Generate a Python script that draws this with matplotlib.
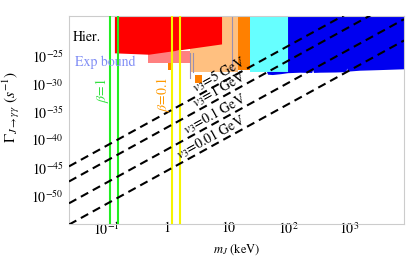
import matplotlib
matplotlib.use('Agg')
import matplotlib.pyplot as plt
import numpy as np

plt.rcParams['font.family'] = ['STIXGeneral', 'DejaVu Serif']
plt.rcParams['mathtext.fontset'] = 'stix'

# dashed v3 lines, read at both ends of the mass axis (keV)
line_masses = [0.024, 8000]
v3_labels = ['5', '1', '0.1', '0.01']
gamma_lo = [2.0e-45, 4.0e-48, 5.0e-52, 7.9e-56]
gamma_hi = [1.6e-12, 4.0e-15, 4.0e-19, 6.3e-23]

# vertical beta lines (keV)
beta1_masses = [0.113, 0.155]
beta01_masses = [1.20, 1.60]

# excluded regions
top = 1e-15
red_m = [0.137, 0.137, 0.50, 8.0, 8.0]
red_g = [top, 3.2e-25, 1.8e-25, 1.26e-23, top]
salmon_m = [0.48, 0.48, 2.37, 2.37]
salmon_g = [1e-24, 6.3e-27, 6.3e-27, 1e-24]
peach_m = [2.37, 2.37, 14.7, 14.7]
peach_g = [top, 1.26e-28, 1.26e-28, top]
orange_m = [14.7, 14.7, 23.2, 23.2]
orange_g = [top, 3.4e-28, 3.4e-28, top]
orange_bit1_m = [1.03, 1.03, 1.24, 1.24]
orange_bit1_g = [6.3e-27, 3.4e-28, 3.4e-28, 6.3e-27]
orange_bit2_m = [2.87, 2.87, 3.74, 3.74]
orange_bit2_g = [5.0e-29, 1.6e-30, 1.6e-30, 5.0e-29]
cyan_m = [23.2, 23.2, 98, 98]
cyan_g = [top, 1.5e-28, 1.5e-28, top]
blue_m = [98, 98, 44, 46, 55, 75, 98, 155, 245, 254, 262, 331, 600, 900, 923, 950,
          1500, 3200, 8100, 8100]
blue_g = [top, 1.5e-28, 1.5e-28, 4.8e-29, 4.2e-29, 6.0e-29, 9.0e-29, 1.1e-28, 1.0e-28,
          3.2e-28, 1.0e-28, 1.1e-28, 1.2e-28, 1.4e-28, 6.3e-28, 1.7e-28,
          2.5e-28, 3.2e-28, 4.5e-28, top]
outline_m = [2.37, 2.65, 11.7]
outline_lo = [1.3e-29, 1.5e-28, 3.4e-28]

fig = plt.figure(figsize=(4.15, 2.57), dpi=100)
ax = fig.add_axes([0.1663, 0.1284, 0.8072, 0.8093])

ax.fill(salmon_m, salmon_g, color='#ff8080', lw=0, zorder=1)
ax.fill(peach_m, peach_g, color='#ffc080', lw=0, zorder=1)
ax.fill(red_m, red_g, color='#ff0000', lw=0, zorder=2)
ax.fill(orange_m, orange_g, color='#ff8000', lw=0, zorder=1)
ax.fill(orange_bit1_m, orange_bit1_g, color='#ff8000', lw=0, zorder=1)
ax.fill(orange_bit2_m, orange_bit2_g, color='#ff8000', lw=0, zorder=1)
ax.fill(cyan_m, cyan_g, color='#66ffff', lw=0, zorder=1)
ax.fill(blue_m, blue_g, color='#0000f0', lw=0, zorder=1)
for m, lo in zip(outline_m, outline_lo):
    ax.plot([m, m], [lo, 3e-25 if m < 8 else top], color='#9a8fb0', lw=0.8, zorder=1.5)

for m in beta1_masses:
    ax.axvline(m, color='#22ee22', lw=1.5, zorder=3)
for m in beta01_masses:
    ax.axvline(m, color='#f5f500', lw=1.5, zorder=3)

ax.set_xscale('log')
ax.set_yscale('log')
ax.set_xlim(0.024, 8000)
ax.set_ylim(1e-55, 1.5e-18)

for lab, lo, hi in zip(v3_labels, gamma_lo, gamma_hi):
    ax.plot(line_masses, [lo, hi], color='black', lw=1.5, ls=(0, (4, 2.5)), zorder=4)

# labels along the lines, right end near 22 keV
fig.canvas.draw()
for lab, lo, hi in zip(v3_labels, gamma_lo, gamma_hi):
    t = (np.log10(22) - np.log10(line_masses[0])) / (np.log10(line_masses[1]) - np.log10(line_masses[0]))
    g = 10 ** (np.log10(lo) + t * (np.log10(hi) - np.log10(lo)))
    p0 = ax.transData.transform((line_masses[0], lo))
    p1 = ax.transData.transform((line_masses[1], hi))
    ang = np.degrees(np.arctan2(p1[1] - p0[1], p1[0] - p0[0]))
    ax.text(22, g, r'$v_3$=' + lab + ' GeV', rotation=ang, rotation_mode='anchor',
            ha='right', va='bottom', fontsize=10, zorder=5)

ax.text(0.012, 0.88, 'Hier.', transform=ax.transAxes, fontsize=10, color='black', zorder=5)
ax.text(0.018, 0.76, 'Exp bound', transform=ax.transAxes, fontsize=10, color='#7f8cf5', zorder=5)
ax.text(0.085, 4e-34, r'$\beta$=1', rotation=90, color='#33e040', fontsize=10,
        ha='center', va='bottom', zorder=5)
ax.text(0.86, 1e-35, r'$\beta$=0.1', rotation=90, color='#ff9a00', fontsize=10,
        ha='center', va='bottom', zorder=5)

ax.set_xticks([0.1, 1, 10, 100, 1000])
ax.set_xticklabels([r'$10^{-1}$', '1', '10', r'$10^2$', r'$10^3$'])
ax.set_yticks([1e-50, 1e-45, 1e-40, 1e-35, 1e-30, 1e-25])
ax.set_yticklabels([r'$10^{-50}$', r'$10^{-45}$', r'$10^{-40}$', r'$10^{-35}$',
                    r'$10^{-30}$', r'$10^{-25}$'])
ax.minorticks_off()
ax.tick_params(axis='both', length=0, labelsize=10)
ax.tick_params(axis='x', pad=-2)
ax.tick_params(axis='y', pad=4)

for s in ax.spines.values():
    s.set_color('#cccccc')
    s.set_linewidth(0.8)

ax.set_xlabel(r'$m_J$ (keV)', fontsize=9)
ax.xaxis.set_label_coords(0.5, -0.09)
ax.set_ylabel(r'$\Gamma_{J\to\gamma\gamma}\ (s^{-1})$', fontsize=11)
ax.yaxis.set_label_coords(-0.14, 0.56)

fig.savefig('out.png', dpi=100)
